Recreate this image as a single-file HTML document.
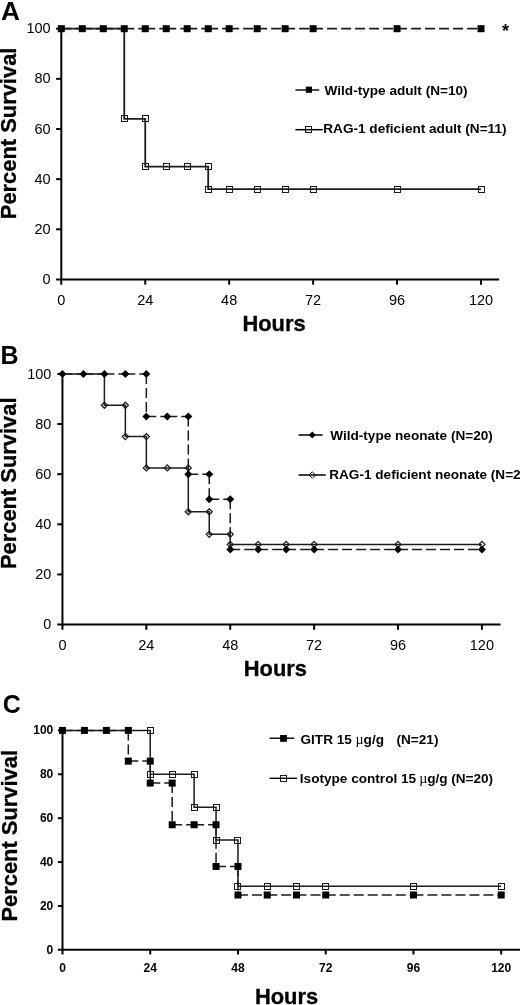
<!DOCTYPE html>
<html><head><meta charset="utf-8"><title>Survival curves</title>
<style>
html,body{margin:0;padding:0;background:#fff;}
body{width:520px;height:1005px;overflow:hidden;}
svg{display:block;font-family:"Liberation Sans", sans-serif;filter:grayscale(1);}
text{fill:#000;}
</style></head><body>
<svg width="520" height="1005" viewBox="0 0 520 1005">
<rect width="520" height="1005" fill="#fff"/>
<text transform="translate(0.9,19.9) scale(1.05,1)" style="font-size:25px;font-weight:700">A</text><g stroke="#000" stroke-width="2"><line x1="61.3" y1="28.2" x2="61.3" y2="284.65"/><line x1="56.1" y1="279.45" x2="499.2" y2="279.45"/><line x1="56.1" y1="229.3" x2="61.3" y2="229.3"/><line x1="56.1" y1="179.15" x2="61.3" y2="179.15"/><line x1="56.1" y1="129" x2="61.3" y2="129"/><line x1="56.1" y1="78.85" x2="61.3" y2="78.85"/><line x1="56.1" y1="28.7" x2="61.3" y2="28.7"/><line x1="145.24" y1="279.45" x2="145.24" y2="284.65"/><line x1="229.18" y1="279.45" x2="229.18" y2="284.65"/><line x1="313.12" y1="279.45" x2="313.12" y2="284.65"/><line x1="397.06" y1="279.45" x2="397.06" y2="284.65"/><line x1="481" y1="279.45" x2="481" y2="284.65"/></g><text x="50.6" y="284.05" text-anchor="end" style="font-size:14.5px;font-weight:400">0</text><text x="50.6" y="233.9" text-anchor="end" style="font-size:14.5px;font-weight:400">20</text><text x="50.6" y="183.75" text-anchor="end" style="font-size:14.5px;font-weight:400">40</text><text x="50.6" y="133.6" text-anchor="end" style="font-size:14.5px;font-weight:400">60</text><text x="50.6" y="83.45" text-anchor="end" style="font-size:14.5px;font-weight:400">80</text><text x="50.6" y="33.3" text-anchor="end" style="font-size:14.5px;font-weight:400">100</text><text x="61.3" y="304.7" text-anchor="middle" style="font-size:14.5px;font-weight:400">0</text><text x="145.24" y="304.7" text-anchor="middle" style="font-size:14.5px;font-weight:400">24</text><text x="229.18" y="304.7" text-anchor="middle" style="font-size:14.5px;font-weight:400">48</text><text x="313.12" y="304.7" text-anchor="middle" style="font-size:14.5px;font-weight:400">72</text><text x="397.06" y="304.7" text-anchor="middle" style="font-size:14.5px;font-weight:400">96</text><text x="481" y="304.7" text-anchor="middle" style="font-size:14.5px;font-weight:400">120</text><text transform="translate(274,331.3) scale(1,1.04)" text-anchor="middle" style="font-size:21.9px;font-weight:700;stroke:#000;stroke-width:0.3px">Hours</text><text transform="translate(16.3,133.4) rotate(-90)" text-anchor="middle" style="font-size:21.9px;font-weight:700;stroke:#000;stroke-width:0.3px">Percent Survival</text><path d="M61.3,28.7 L124.25,28.7 L124.25,118.97 L145.24,118.97 L145.24,166.61 L208.19,166.61 L208.19,189.18 L481,189.18" stroke="#1c1c1c" stroke-width="1.8" fill="none"/><g stroke="#1c1c1c" stroke-width="1.8" stroke-dasharray="10 4" fill="none"><line x1="61.3" y1="28.7" x2="82.28" y2="28.7"/><line x1="82.28" y1="28.7" x2="103.27" y2="28.7"/><line x1="103.27" y1="28.7" x2="124.25" y2="28.7"/><line x1="124.25" y1="28.7" x2="145.24" y2="28.7"/><line x1="145.24" y1="28.7" x2="166.22" y2="28.7"/><line x1="166.22" y1="28.7" x2="187.21" y2="28.7"/><line x1="187.21" y1="28.7" x2="208.19" y2="28.7"/><line x1="208.19" y1="28.7" x2="229.18" y2="28.7"/><line x1="229.18" y1="28.7" x2="257.16" y2="28.7"/><line x1="257.16" y1="28.7" x2="285.14" y2="28.7"/><line x1="285.14" y1="28.7" x2="313.12" y2="28.7"/><line x1="313.12" y1="28.7" x2="397.06" y2="28.7"/><line x1="397.06" y1="28.7" x2="481" y2="28.7"/></g><rect x="121.5" y="115.5" width="6" height="6" fill="none" stroke="#1a1a1a" stroke-width="1"/><rect x="142.5" y="115.5" width="6" height="6" fill="none" stroke="#1a1a1a" stroke-width="1"/><rect x="142.5" y="163.5" width="6" height="6" fill="none" stroke="#1a1a1a" stroke-width="1"/><rect x="163.5" y="163.5" width="6" height="6" fill="none" stroke="#1a1a1a" stroke-width="1"/><rect x="184.5" y="163.5" width="6" height="6" fill="none" stroke="#1a1a1a" stroke-width="1"/><rect x="205.5" y="163.5" width="6" height="6" fill="none" stroke="#1a1a1a" stroke-width="1"/><rect x="205.5" y="186.5" width="6" height="6" fill="none" stroke="#1a1a1a" stroke-width="1"/><rect x="226.5" y="186.5" width="6" height="6" fill="none" stroke="#1a1a1a" stroke-width="1"/><rect x="254.5" y="186.5" width="6" height="6" fill="none" stroke="#1a1a1a" stroke-width="1"/><rect x="282.5" y="186.5" width="6" height="6" fill="none" stroke="#1a1a1a" stroke-width="1"/><rect x="310.5" y="186.5" width="6" height="6" fill="none" stroke="#1a1a1a" stroke-width="1"/><rect x="394.5" y="186.5" width="6" height="6" fill="none" stroke="#1a1a1a" stroke-width="1"/><rect x="478.5" y="186.5" width="6" height="6" fill="none" stroke="#1a1a1a" stroke-width="1"/><rect x="57.8" y="25.2" width="7" height="7" fill="#000"/><rect x="78.78" y="25.2" width="7" height="7" fill="#000"/><rect x="99.77" y="25.2" width="7" height="7" fill="#000"/><rect x="120.75" y="25.2" width="7" height="7" fill="#000"/><rect x="141.74" y="25.2" width="7" height="7" fill="#000"/><rect x="162.72" y="25.2" width="7" height="7" fill="#000"/><rect x="183.71" y="25.2" width="7" height="7" fill="#000"/><rect x="204.69" y="25.2" width="7" height="7" fill="#000"/><rect x="225.68" y="25.2" width="7" height="7" fill="#000"/><rect x="253.66" y="25.2" width="7" height="7" fill="#000"/><rect x="281.64" y="25.2" width="7" height="7" fill="#000"/><rect x="309.62" y="25.2" width="7" height="7" fill="#000"/><rect x="393.56" y="25.2" width="7" height="7" fill="#000"/><rect x="477.5" y="25.2" width="7" height="7" fill="#000"/><text x="502" y="37" style="font-size:18px;font-weight:700">*</text><line x1="295.4" y1="90" x2="319.2" y2="90" stroke="#000" stroke-width="1.4"/><rect x="305.8" y="86.6" width="6.2" height="6.2" fill="#000"/><text transform="translate(324.6,95.3) scale(1,1)" style="font-size:13.6px;font-weight:700">Wild-type adult (N=10)</text><line x1="295.4" y1="129.7" x2="322.8" y2="129.7" stroke="#000" stroke-width="1.5"/><rect x="305.5" y="126.5" width="6" height="6" fill="none" stroke="#1a1a1a" stroke-width="1"/><text transform="translate(323.3,132.9) scale(1,1)" style="font-size:13.6px;font-weight:700">RAG-1 deficient adult (N=11)</text><text x="0.5" y="363.9" style="font-size:25px;font-weight:700">B</text><g stroke="#000" stroke-width="2"><line x1="62.45" y1="373.4" x2="62.45" y2="629.8"/><line x1="57.25" y1="624.6" x2="500.5" y2="624.6"/><line x1="57.25" y1="574.46" x2="62.45" y2="574.46"/><line x1="57.25" y1="524.32" x2="62.45" y2="524.32"/><line x1="57.25" y1="474.18" x2="62.45" y2="474.18"/><line x1="57.25" y1="424.04" x2="62.45" y2="424.04"/><line x1="57.25" y1="373.9" x2="62.45" y2="373.9"/><line x1="146.34" y1="624.6" x2="146.34" y2="629.8"/><line x1="230.23" y1="624.6" x2="230.23" y2="629.8"/><line x1="314.13" y1="624.6" x2="314.13" y2="629.8"/><line x1="398.02" y1="624.6" x2="398.02" y2="629.8"/><line x1="481.91" y1="624.6" x2="481.91" y2="629.8"/></g><text x="51.4" y="629.4" text-anchor="end" style="font-size:14.5px;font-weight:400">0</text><text x="51.4" y="579.26" text-anchor="end" style="font-size:14.5px;font-weight:400">20</text><text x="51.4" y="529.12" text-anchor="end" style="font-size:14.5px;font-weight:400">40</text><text x="51.4" y="478.98" text-anchor="end" style="font-size:14.5px;font-weight:400">60</text><text x="51.4" y="428.84" text-anchor="end" style="font-size:14.5px;font-weight:400">80</text><text x="51.4" y="378.7" text-anchor="end" style="font-size:14.5px;font-weight:400">100</text><text x="62.45" y="649.7" text-anchor="middle" style="font-size:14.5px;font-weight:400">0</text><text x="146.34" y="649.7" text-anchor="middle" style="font-size:14.5px;font-weight:400">24</text><text x="230.23" y="649.7" text-anchor="middle" style="font-size:14.5px;font-weight:400">48</text><text x="314.13" y="649.7" text-anchor="middle" style="font-size:14.5px;font-weight:400">72</text><text x="398.02" y="649.7" text-anchor="middle" style="font-size:14.5px;font-weight:400">96</text><text x="481.91" y="649.7" text-anchor="middle" style="font-size:14.5px;font-weight:400">120</text><text transform="translate(275.4,676.4) scale(1,1.04)" text-anchor="middle" style="font-size:21.9px;font-weight:700;stroke:#000;stroke-width:0.3px">Hours</text><text transform="translate(16.1,483.25) rotate(-90)" text-anchor="middle" style="font-size:21.9px;font-weight:700;stroke:#000;stroke-width:0.3px">Percent Survival</text><path d="M62.45,373.9 L104.4,373.9 L104.4,405.24 L125.37,405.24 L125.37,436.58 L146.34,436.58 L146.34,467.91 L188.29,467.91 L188.29,511.79 L209.26,511.79 L209.26,534.35 L230.23,534.35 L230.23,544.38 L481.91,544.38" stroke="#1c1c1c" stroke-width="1.5" fill="none"/><g stroke="#1c1c1c" stroke-width="1.5" stroke-dasharray="10 4" fill="none"><line x1="62.45" y1="373.9" x2="83.42" y2="373.9"/><line x1="83.42" y1="373.9" x2="104.4" y2="373.9"/><line x1="104.4" y1="373.9" x2="125.37" y2="373.9"/><line x1="125.37" y1="373.9" x2="146.34" y2="373.9"/><line x1="146.34" y1="373.9" x2="146.34" y2="416.52"/><line x1="146.34" y1="416.52" x2="167.31" y2="416.52"/><line x1="167.31" y1="416.52" x2="188.29" y2="416.52"/><line x1="188.29" y1="416.52" x2="188.29" y2="474.18"/><line x1="188.29" y1="474.18" x2="209.26" y2="474.18"/><line x1="209.26" y1="474.18" x2="209.26" y2="499.25"/><line x1="209.26" y1="499.25" x2="230.23" y2="499.25"/><line x1="230.23" y1="499.25" x2="230.23" y2="549.39"/><line x1="230.23" y1="549.39" x2="258.2" y2="549.39"/><line x1="258.2" y1="549.39" x2="286.16" y2="549.39"/><line x1="286.16" y1="549.39" x2="314.13" y2="549.39"/><line x1="314.13" y1="549.39" x2="398.02" y2="549.39"/><line x1="398.02" y1="549.39" x2="481.91" y2="549.39"/></g><polygon points="104.4,402.21 107.42,405.24 104.4,408.26 101.37,405.24" fill="none" stroke="#1a1a1a" stroke-width="1.25"/><polygon points="125.37,402.21 128.39,405.24 125.37,408.26 122.34,405.24" fill="none" stroke="#1a1a1a" stroke-width="1.25"/><polygon points="125.37,433.55 128.39,436.58 125.37,439.6 122.34,436.58" fill="none" stroke="#1a1a1a" stroke-width="1.25"/><polygon points="146.34,433.55 149.37,436.58 146.34,439.6 143.32,436.58" fill="none" stroke="#1a1a1a" stroke-width="1.25"/><polygon points="146.34,464.89 149.37,467.91 146.34,470.94 143.32,467.91" fill="none" stroke="#1a1a1a" stroke-width="1.25"/><polygon points="167.31,464.89 170.34,467.91 167.31,470.94 164.29,467.91" fill="none" stroke="#1a1a1a" stroke-width="1.25"/><polygon points="188.29,464.89 191.31,467.91 188.29,470.94 185.26,467.91" fill="none" stroke="#1a1a1a" stroke-width="1.25"/><polygon points="188.29,508.76 191.31,511.79 188.29,514.81 185.26,511.79" fill="none" stroke="#1a1a1a" stroke-width="1.25"/><polygon points="209.26,508.76 212.29,511.79 209.26,514.81 206.24,511.79" fill="none" stroke="#1a1a1a" stroke-width="1.25"/><polygon points="209.26,531.32 212.29,534.35 209.26,537.37 206.24,534.35" fill="none" stroke="#1a1a1a" stroke-width="1.25"/><polygon points="230.23,531.32 233.26,534.35 230.23,537.37 227.21,534.35" fill="none" stroke="#1a1a1a" stroke-width="1.25"/><polygon points="230.23,541.35 233.26,544.38 230.23,547.4 227.21,544.38" fill="none" stroke="#1a1a1a" stroke-width="1.25"/><polygon points="258.2,541.35 261.22,544.38 258.2,547.4 255.17,544.38" fill="none" stroke="#1a1a1a" stroke-width="1.25"/><polygon points="286.16,541.35 289.19,544.38 286.16,547.4 283.14,544.38" fill="none" stroke="#1a1a1a" stroke-width="1.25"/><polygon points="314.13,541.35 317.15,544.38 314.13,547.4 311.1,544.38" fill="none" stroke="#1a1a1a" stroke-width="1.25"/><polygon points="398.02,541.35 401.04,544.38 398.02,547.4 394.99,544.38" fill="none" stroke="#1a1a1a" stroke-width="1.25"/><polygon points="481.91,541.35 484.93,544.38 481.91,547.4 478.88,544.38" fill="none" stroke="#1a1a1a" stroke-width="1.25"/><polygon points="62.45,369.9 66.45,373.9 62.45,377.9 58.45,373.9" fill="#000"/><polygon points="83.42,369.9 87.42,373.9 83.42,377.9 79.42,373.9" fill="#000"/><polygon points="104.4,369.9 108.4,373.9 104.4,377.9 100.4,373.9" fill="#000"/><polygon points="125.37,369.9 129.37,373.9 125.37,377.9 121.37,373.9" fill="#000"/><polygon points="146.34,369.9 150.34,373.9 146.34,377.9 142.34,373.9" fill="#000"/><polygon points="146.34,412.52 150.34,416.52 146.34,420.52 142.34,416.52" fill="#000"/><polygon points="167.31,412.52 171.31,416.52 167.31,420.52 163.31,416.52" fill="#000"/><polygon points="188.29,412.52 192.29,416.52 188.29,420.52 184.29,416.52" fill="#000"/><polygon points="188.29,470.18 192.29,474.18 188.29,478.18 184.29,474.18" fill="#000"/><polygon points="209.26,470.18 213.26,474.18 209.26,478.18 205.26,474.18" fill="#000"/><polygon points="209.26,495.25 213.26,499.25 209.26,503.25 205.26,499.25" fill="#000"/><polygon points="230.23,495.25 234.23,499.25 230.23,503.25 226.23,499.25" fill="#000"/><polygon points="230.23,545.39 234.23,549.39 230.23,553.39 226.23,549.39" fill="#000"/><polygon points="258.2,545.39 262.2,549.39 258.2,553.39 254.2,549.39" fill="#000"/><polygon points="286.16,545.39 290.16,549.39 286.16,553.39 282.16,549.39" fill="#000"/><polygon points="314.13,545.39 318.13,549.39 314.13,553.39 310.13,549.39" fill="#000"/><polygon points="398.02,545.39 402.02,549.39 398.02,553.39 394.02,549.39" fill="#000"/><polygon points="481.91,545.39 485.91,549.39 481.91,553.39 477.91,549.39" fill="#000"/><line x1="298.5" y1="435" x2="322.6" y2="435" stroke="#000" stroke-width="1.5"/><polygon points="312.3,431.5 315.8,435 312.3,438.5 308.8,435" fill="#000"/><text transform="translate(330.2,440.4) scale(1,1)" style="font-size:13.6px;font-weight:700">Wild-type neonate (N=20)</text><line x1="298.5" y1="475" x2="325.7" y2="475" stroke="#000" stroke-width="1.5"/><polygon points="312.3,471.7 315.6,475 312.3,478.3 309,475" fill="none" stroke="#1a1a1a" stroke-width="1"/><text transform="translate(329.2,479.1) scale(1,1)" style="font-size:13.6px;font-weight:700">RAG-1 deficient neonate (N=24)</text><text x="2.8" y="713" style="font-size:25px;font-weight:700">C</text><g stroke="#000" stroke-width="2"><line x1="62.5" y1="729.9" x2="62.5" y2="954.45"/><line x1="57.9" y1="949.85" x2="520" y2="949.85"/><line x1="57.9" y1="905.96" x2="62.5" y2="905.96"/><line x1="57.9" y1="862.07" x2="62.5" y2="862.07"/><line x1="57.9" y1="818.18" x2="62.5" y2="818.18"/><line x1="57.9" y1="774.29" x2="62.5" y2="774.29"/><line x1="57.9" y1="730.4" x2="62.5" y2="730.4"/><line x1="150.24" y1="949.85" x2="150.24" y2="954.45"/><line x1="237.98" y1="949.85" x2="237.98" y2="954.45"/><line x1="325.72" y1="949.85" x2="325.72" y2="954.45"/><line x1="413.46" y1="949.85" x2="413.46" y2="954.45"/><line x1="501.2" y1="949.85" x2="501.2" y2="954.45"/></g><text x="53.3" y="953.9" text-anchor="end" style="font-size:12px;font-weight:700">0</text><text x="53.3" y="910.01" text-anchor="end" style="font-size:12px;font-weight:700">20</text><text x="53.3" y="866.12" text-anchor="end" style="font-size:12px;font-weight:700">40</text><text x="53.3" y="822.23" text-anchor="end" style="font-size:12px;font-weight:700">60</text><text x="53.3" y="778.34" text-anchor="end" style="font-size:12px;font-weight:700">80</text><text x="53.3" y="734.45" text-anchor="end" style="font-size:12px;font-weight:700">100</text><text x="62.5" y="971.8" text-anchor="middle" style="font-size:12px;font-weight:700">0</text><text x="150.24" y="971.8" text-anchor="middle" style="font-size:12px;font-weight:700">24</text><text x="237.98" y="971.8" text-anchor="middle" style="font-size:12px;font-weight:700">48</text><text x="325.72" y="971.8" text-anchor="middle" style="font-size:12px;font-weight:700">72</text><text x="413.46" y="971.8" text-anchor="middle" style="font-size:12px;font-weight:700">96</text><text x="501.2" y="971.8" text-anchor="middle" style="font-size:12px;font-weight:700">120</text><text transform="translate(286.5,1003.8) scale(1,1.04)" text-anchor="middle" style="font-size:21.9px;font-weight:700;stroke:#000;stroke-width:0.3px">Hours</text><text transform="translate(16.7,835.75) rotate(-90)" text-anchor="middle" style="font-size:21.9px;font-weight:700;stroke:#000;stroke-width:0.3px">Percent Survival</text><path d="M62.5,730.4 L150.24,730.4 L150.24,774.29 L194.11,774.29 L194.11,807.21 L216.04,807.21 L216.04,840.12 L237.98,840.12 L237.98,886.21 L501.2,886.21" stroke="#1c1c1c" stroke-width="1.5" fill="none"/><g stroke="#1c1c1c" stroke-width="1.5" stroke-dasharray="10 4" fill="none"><line x1="62.5" y1="730.4" x2="84.43" y2="730.4"/><line x1="84.43" y1="730.4" x2="106.37" y2="730.4"/><line x1="106.37" y1="730.4" x2="128.3" y2="730.4"/><line x1="128.3" y1="730.4" x2="128.3" y2="761.12"/><line x1="128.3" y1="761.12" x2="150.24" y2="761.12"/><line x1="150.24" y1="761.12" x2="150.24" y2="783.07"/><line x1="150.24" y1="783.07" x2="172.17" y2="783.07"/><line x1="172.17" y1="783.07" x2="172.17" y2="824.76"/><line x1="172.17" y1="824.76" x2="194.11" y2="824.76"/><line x1="194.11" y1="824.76" x2="216.04" y2="824.76"/><line x1="216.04" y1="824.76" x2="216.04" y2="866.46"/><line x1="216.04" y1="866.46" x2="237.98" y2="866.46"/><line x1="237.98" y1="866.46" x2="237.98" y2="894.99"/><line x1="237.98" y1="894.99" x2="267.22" y2="894.99"/><line x1="267.22" y1="894.99" x2="296.47" y2="894.99"/><line x1="296.47" y1="894.99" x2="325.72" y2="894.99"/><line x1="325.72" y1="894.99" x2="413.46" y2="894.99"/><line x1="413.46" y1="894.99" x2="501.2" y2="894.99"/></g><rect x="147.5" y="727.5" width="6" height="6" fill="none" stroke="#1a1a1a" stroke-width="1"/><rect x="147.5" y="771.5" width="6" height="6" fill="none" stroke="#1a1a1a" stroke-width="1"/><rect x="169.5" y="771.5" width="6" height="6" fill="none" stroke="#1a1a1a" stroke-width="1"/><rect x="191.5" y="771.5" width="6" height="6" fill="none" stroke="#1a1a1a" stroke-width="1"/><rect x="191.5" y="804.5" width="6" height="6" fill="none" stroke="#1a1a1a" stroke-width="1"/><rect x="213.5" y="804.5" width="6" height="6" fill="none" stroke="#1a1a1a" stroke-width="1"/><rect x="213.5" y="837.5" width="6" height="6" fill="none" stroke="#1a1a1a" stroke-width="1"/><rect x="234.5" y="837.5" width="6" height="6" fill="none" stroke="#1a1a1a" stroke-width="1"/><rect x="234.5" y="883.5" width="6" height="6" fill="none" stroke="#1a1a1a" stroke-width="1"/><rect x="264.5" y="883.5" width="6" height="6" fill="none" stroke="#1a1a1a" stroke-width="1"/><rect x="293.5" y="883.5" width="6" height="6" fill="none" stroke="#1a1a1a" stroke-width="1"/><rect x="322.5" y="883.5" width="6" height="6" fill="none" stroke="#1a1a1a" stroke-width="1"/><rect x="410.5" y="883.5" width="6" height="6" fill="none" stroke="#1a1a1a" stroke-width="1"/><rect x="498.5" y="883.5" width="6" height="6" fill="none" stroke="#1a1a1a" stroke-width="1"/><rect x="59" y="726.9" width="7" height="7" fill="#000"/><rect x="80.93" y="726.9" width="7" height="7" fill="#000"/><rect x="102.87" y="726.9" width="7" height="7" fill="#000"/><rect x="124.8" y="726.9" width="7" height="7" fill="#000"/><rect x="124.8" y="757.62" width="7" height="7" fill="#000"/><rect x="146.74" y="757.62" width="7" height="7" fill="#000"/><rect x="146.74" y="779.57" width="7" height="7" fill="#000"/><rect x="168.67" y="779.57" width="7" height="7" fill="#000"/><rect x="168.67" y="821.26" width="7" height="7" fill="#000"/><rect x="190.61" y="821.26" width="7" height="7" fill="#000"/><rect x="212.54" y="821.26" width="7" height="7" fill="#000"/><rect x="212.54" y="862.96" width="7" height="7" fill="#000"/><rect x="234.48" y="862.96" width="7" height="7" fill="#000"/><rect x="234.48" y="891.49" width="7" height="7" fill="#000"/><rect x="263.72" y="891.49" width="7" height="7" fill="#000"/><rect x="292.97" y="891.49" width="7" height="7" fill="#000"/><rect x="322.22" y="891.49" width="7" height="7" fill="#000"/><rect x="409.96" y="891.49" width="7" height="7" fill="#000"/><rect x="497.7" y="891.49" width="7" height="7" fill="#000"/><line x1="269.6" y1="738.2" x2="294.2" y2="738.2" stroke="#000" stroke-width="1.4"/><rect x="280.1" y="735" width="6.8" height="6.8" fill="#000"/><text transform="translate(0,743.8)" style="font-size:13.6px;font-weight:700"><tspan x="300.5">GITR 15 </tspan><tspan x="355.5" style="font-family:'Liberation Serif',serif;font-weight:400;font-size:14px">&#181;</tspan><tspan>g/g</tspan><tspan x="396.5">(N=21)</tspan></text><line x1="269.6" y1="778.3" x2="297.2" y2="778.3" stroke="#000" stroke-width="1.4"/><rect x="280.5" y="775.5" width="6" height="6" fill="none" stroke="#1a1a1a" stroke-width="1"/><text transform="translate(0,782.9)" style="font-size:13.6px;font-weight:700"><tspan x="299.8">Isotype control 15 </tspan><tspan x="419.2" style="font-family:'Liberation Serif',serif;font-weight:400;font-size:14px">&#181;</tspan><tspan>g/g</tspan><tspan x="451.2">(N=20)</tspan></text>
</svg>
</body></html>
